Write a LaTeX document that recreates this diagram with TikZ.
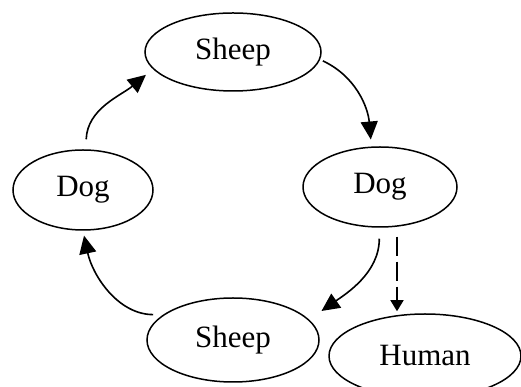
\documentclass[tikz,border=0pt]{standalone}
\usepackage{fontspec}
\setmainfont{Liberation Serif}
\usetikzlibrary{shapes.geometric,arrows.meta}

\tikzset{
  oval/.style={ellipse, draw, line width=1.5pt, inner sep=0pt,
    font=\fontsize{31}{36}\selectfont},
  link/.style={line width=1.6pt, -{Triangle[length=18pt,width=17pt]}},
  dashlink/.style={line width=1.5pt, dash pattern=on 19pt off 6pt,
    -{Triangle[length=11pt,width=13pt]}}
}

\begin{document}
\begin{tikzpicture}[x=1pt,y=1pt]
  \useasboundingbox (0,0) rectangle (521,387);

  % the four stages of the cycle and the outlier
  \node[oval, minimum width=176pt, minimum height=78pt] (sheepT) at (233,335) {Sheep};
  \node[oval, minimum width=140pt, minimum height=80pt] (dogL)   at (83,197)  {Dog};
  \node[oval, minimum width=154pt, minimum height=80pt] (dogR)   at (380,200) {Dog};
  \node[oval, minimum width=172pt, minimum height=84pt] (sheepB) at (233,47)  {Sheep};
  \node[oval, minimum width=192pt, minimum height=84pt] (human)  at (425,31)  {Human};

  % cycle arrows
  \draw[link, shorten <=10pt, shorten >=9pt]
    (dogL.86) to[out=88, in=220] (sheepT.192);
  \draw[link, shorten <=3pt, shorten >=7pt]
    (sheepT.-5) to[out=-25, in=95] (dogR.102);
  \draw[link, shorten <=11pt, shorten >=15pt]
    (dogR.-91) to[out=-90, in=35] (sheepB.15);
  \draw[link, shorten <=10pt, shorten >=5pt]
    (sheepB.160) to[out=180, in=-78] (dogL.-90);

  % dashed branch to the human
  \draw[dashlink, shorten <=9pt, shorten >=2pt]
    ([xshift=17pt]dogR.south) -- ([xshift=17pt]dogR.south |- human.north);
\end{tikzpicture}
\end{document}
